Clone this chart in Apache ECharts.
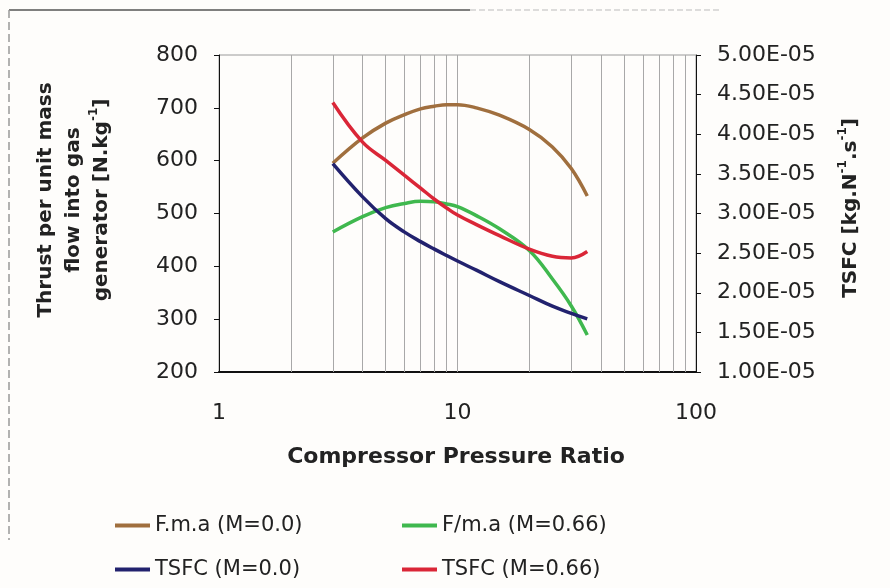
<!DOCTYPE html>
<html>
<head>
<meta charset="utf-8">
<script src="https://cdn.jsdelivr.net/npm/echarts@6/dist/echarts.min.js"></script>
<style>
  html, body { margin: 0; padding: 0; background: #fefdfb; }
  #chart { width: 890px; height: 588px; }
</style>
</head>
<body>
<div id="chart"></div>
<script>
// Compressor pressure ratio sample points (log x axis)
const pressureRatio = [3, 4, 5, 6, 7, 8, 9, 10, 12, 15, 20, 25, 30, 35];

// Specific thrust [N.kg^-1], left axis
const thrustStatic = [595, 643, 671, 687, 698, 703, 706, 706, 700, 686, 659, 626, 585, 533];
const thrustCruise = [465, 494, 511, 519, 523, 522, 518, 513, 496, 471, 430, 376, 325, 270];

// Specific fuel consumption [kg.N^-1.s^-1], right axis
const tsfcStatic = [3.63e-5, 3.21e-5, 2.935e-5, 2.765e-5, 2.645e-5, 2.55e-5, 2.47e-5, 2.40e-5, 2.285e-5, 2.14e-5, 1.965e-5, 1.83e-5, 1.74e-5, 1.67e-5];
const tsfcCruise = [4.40e-5, 3.90e-5, 3.67e-5, 3.48e-5, 3.32e-5, 3.18e-5, 3.07e-5, 2.98e-5, 2.86e-5, 2.72e-5, 2.55e-5, 2.46e-5, 2.44e-5, 2.52e-5];

// Series names
const seriesNames = ['F.m.a (M=0.0)', 'F/m.a (M=0.66)', 'TSFC (M=0.0)', 'TSFC (M=0.66)'];

// Vertical grid lines at the log sub-divisions
const minorGrid = [2, 3, 4, 5, 6, 7, 8, 9, 10, 20, 30, 40, 50, 60, 70, 80, 90];

const FONT = 'DejaVu Sans';
const zip = (xs, ys) => xs.map((x, i) => [x, ys[i]]);

function sciLabel(v) {
  const parts = v.toExponential(2).split('e');
  const n = parseInt(parts[1], 10);
  return parts[0] + 'E' + (n < 0 ? '-' : '+') + String(Math.abs(n)).padStart(2, '0');
}

const chart = echarts.init(document.getElementById('chart'), null, { renderer: 'canvas' });

const lineSeries = (name, data, color, yAxisIndex) => ({
  name, type: 'line', yAxisIndex, data, smooth: 0.4,
  showSymbol: false, symbol: 'none',
  lineStyle: { color, width: 3.5 },
  itemStyle: { color },
  z: 5
});

const legendBase = {
  orient: 'vertical', top: 510, itemGap: 23,
  itemWidth: 35, itemHeight: 4, icon: 'rect',
  textStyle: { fontFamily: FONT, fontSize: 21, color: '#222' }
};

chart.setOption({
  backgroundColor: '#fefdfb',
  animation: false,
  grid: {
    left: 219, right: 194, top: 55, bottom: 216,
    show: true, borderColor: '#9a9a9a', borderWidth: 1, backgroundColor: 'transparent'
  },
  xAxis: {
    type: 'log', logBase: 10, min: 1, max: 100,
    axisLine: { show: true, lineStyle: { color: '#111', width: 2 } },
    axisTick: { show: false },
    splitLine: { show: false },
    axisLabel: { fontFamily: FONT, fontSize: 22, color: '#222', margin: 30 }
  },
  yAxis: [
    {
      type: 'value', min: 200, max: 800, interval: 100, position: 'left',
      axisLine: { show: true, lineStyle: { color: '#111', width: 1 } },
      axisTick: { show: true, length: 5, lineStyle: { color: '#111' } },
      splitLine: { show: false },
      axisLabel: { fontFamily: FONT, fontSize: 22, color: '#222', margin: 21 }
    },
    {
      type: 'value', min: 1e-5, max: 5e-5, interval: 0.5e-5, position: 'right',
      axisLine: { show: true, lineStyle: { color: '#111', width: 1 } },
      axisTick: { show: true, length: 5, lineStyle: { color: '#111' } },
      splitLine: { show: false },
      axisLabel: { fontFamily: FONT, fontSize: 22, color: '#222', margin: 21, formatter: sciLabel }
    }
  ],
  legend: [
    Object.assign({}, legendBase, { left: 110, data: [seriesNames[0], seriesNames[2]] }),
    Object.assign({}, legendBase, { left: 397, data: [seriesNames[1], seriesNames[3]] })
  ],
  series: [
    {
      name: 'grid', type: 'line', data: [], silent: true, z: 1,
      markLine: {
        silent: true, symbol: ['none', 'none'], animation: false,
        label: { show: false },
        lineStyle: { color: '#a8a8a8', width: 1, type: 'solid' },
        data: minorGrid.map(v => ({ xAxis: v }))
      }
    },
    lineSeries(seriesNames[0], zip(pressureRatio, thrustStatic), '#a06f3e', 0),
    lineSeries(seriesNames[1], zip(pressureRatio, thrustCruise), '#3fb84e', 0),
    lineSeries(seriesNames[2], zip(pressureRatio, tsfcStatic), '#22226e', 1),
    lineSeries(seriesNames[3], zip(pressureRatio, tsfcCruise), '#da2637', 1)
  ],
  graphic: [
    // outer frame edges
    { type: 'line', shape: { x1: 9, y1: 10, x2: 470, y2: 10 }, style: { stroke: '#555', lineWidth: 1.5 }, silent: true },
    { type: 'line', shape: { x1: 470, y1: 10, x2: 720, y2: 10 }, style: { stroke: '#bbb', lineWidth: 1, lineDash: [6, 3] }, silent: true },
    { type: 'line', shape: { x1: 9, y1: 10, x2: 9, y2: 540 }, style: { stroke: '#999', lineWidth: 1.5, lineDash: [8, 4] }, silent: true },
    // left axis title
    {
      type: 'text', x: 74, y: 200, rotation: Math.PI / 2, silent: true,
      style: {
        text: '{b|Thrust per unit mass}\n{b|flow into gas}\n{b|generator [N.kg}{s|-1}{b|]}',
        align: 'center', verticalAlign: 'middle', fill: '#222',
        rich: {
          b: { fontFamily: FONT, fontSize: 20, fontWeight: 'bold', lineHeight: 28, fill: '#222' },
          s: { fontFamily: FONT, fontSize: 12, fontWeight: 'bold', lineHeight: 18, verticalAlign: 'top', fill: '#222' }
        }
      }
    },
    // right axis title
    {
      type: 'text', x: 851, y: 208, rotation: Math.PI / 2, silent: true,
      style: {
        text: '{b|TSFC [kg.N}{s|-1}{b|.s}{s|-1}{b|]}',
        align: 'center', verticalAlign: 'middle', fill: '#222',
        rich: {
          b: { fontFamily: FONT, fontSize: 20, fontWeight: 'bold', lineHeight: 28, fill: '#222' },
          s: { fontFamily: FONT, fontSize: 12, fontWeight: 'bold', lineHeight: 18, verticalAlign: 'top', fill: '#222' }
        }
      }
    },
    // x axis title
    {
      type: 'text', x: 456, y: 457, silent: true,
      style: {
        text: 'Compressor Pressure Ratio', align: 'center', verticalAlign: 'middle',
        font: 'bold 22px "DejaVu Sans"', fill: '#222'
      }
    }
  ]
});
</script>
</body>
</html>
